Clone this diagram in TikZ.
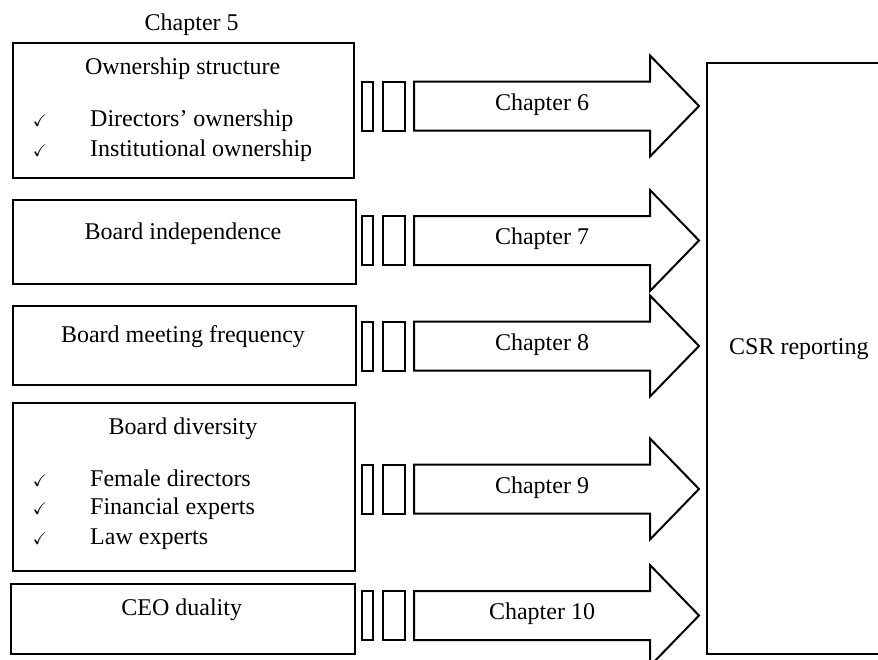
\documentclass[tikz,border=0pt]{standalone}
\usepackage{fontspec}
\setmainfont{Liberation Serif}
\usepackage{amssymb}
\begin{document}
\begin{tikzpicture}[x=1pt,y=-1pt,
  frame/.style={draw, line width=2pt, rectangle, inner sep=0pt, anchor=north west},
  lbl/.style={font=\fontsize{24}{28}\selectfont, inner sep=0pt, anchor=base},
  item/.style={lbl, anchor=base west},
  tick/.style={inner sep=0pt, anchor=base, font=\fontsize{17}{18}\selectfont},
  bar/.style={draw, line width=2pt},
  bigarrow/.style={draw, line width=2pt, line join=miter},
  chapterarrow/.pic={
    \draw[bar] (361.5,-24.5) rectangle (373,24.5);
    \draw[bar] (382.5,-24.5) rectangle (404.5,24.5);
    \draw[bigarrow] (414,-24.5) -- (650,-24.5) -- (650,-50.5) -- (699,0)
      -- (650,50.5) -- (650,24.5) -- (414,24.5) -- cycle;
    \node[lbl] (-text) at (542,4) {#1};
  }]
\path[use as bounding box, clip] (0,0) rectangle (878,659);

% chapter heading
\node[lbl] (ch5) at (191.7,30) {Chapter 5};

% left column: governance attributes
\node[frame, minimum width=341.5pt, minimum height=135pt] (own) at (11.5,42) {};
\node[lbl] (ownt) at (182.7,74) {Ownership structure};
\node[tick] (k1) at (40,126.5) {$\checkmark$};
\node[item] (i1) at (90,126.5) {Directors’ ownership};
\node[tick] (k2) at (40,156.5) {$\checkmark$};
\node[item] (i2) at (90,156.5) {Institutional ownership};

\node[frame, minimum width=343pt, minimum height=84pt] (ind) at (11.5,199) {};
\node[lbl] (indt) at (183,239.5) {Board independence};

\node[frame, minimum width=343pt, minimum height=79pt] (meet) at (11.5,305) {};
\node[lbl] (meett) at (183,342.7) {Board meeting frequency};

\node[frame, minimum width=342.5pt, minimum height=168.5pt] (div) at (11.5,401.5) {};
\node[lbl] (divt) at (183,434.3) {Board diversity};
\node[tick] (k3) at (40,486) {$\checkmark$};
\node[item] (i3) at (90,486) {Female directors};
\node[tick] (k4) at (40,514.3) {$\checkmark$};
\node[item] (i4) at (90,514.3) {Financial experts};
\node[tick] (k5) at (40,544.3) {$\checkmark$};
\node[item] (i5) at (90,544.3) {Law experts};

\node[frame, minimum width=344pt, minimum height=69.5pt] (ceo) at (10,583) {};
\node[lbl] (ceot) at (181.7,615.7) {CEO duality};

% outcome
\node[frame, minimum width=185pt, minimum height=591pt] (csr) at (706,61.7) {};
\node[lbl, anchor=base west] (csrt) at (729,354) {CSR reporting};

% block arrows into the outcome
\pic (a6) at (0,106) {chapterarrow=Chapter 6};
\pic (a7) at (0,240.5) {chapterarrow=Chapter 7};
\pic (a8) at (0,346) {chapterarrow=Chapter 8};
\pic (a9) at (0,489) {chapterarrow=Chapter 9};
\pic (a10) at (0,615.5) {chapterarrow=Chapter 10};
\end{tikzpicture}
\end{document}
